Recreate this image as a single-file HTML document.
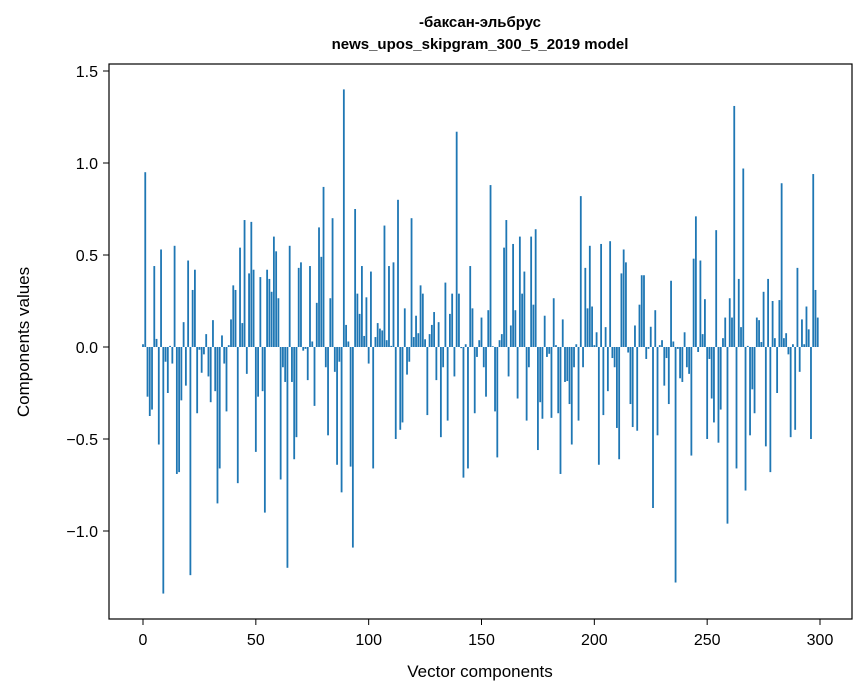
<!DOCTYPE html>
<html><head><meta charset="utf-8">
<style>
body{margin:0;background:#fff;}
svg{display:block;font-family:"Liberation Sans","DejaVu Sans",sans-serif;}
</style></head>
<body>
<svg id="chart" width="867" height="696" viewBox="0 0 867 696" xmlns="http://www.w3.org/2000/svg">
<rect width="867" height="696" fill="#fff"/>
<text x="480" y="27" text-anchor="middle" font-size="15" font-weight="bold">-баксан-эльбрус</text>
<text x="480" y="49" text-anchor="middle" font-size="15" font-weight="bold">news_upos_skipgram_300_5_2019 model</text>
<g id="bars"></g>
<g id="xaxis"></g>
<g id="yaxis"></g>
<rect x="109" y="64" width="743" height="555" fill="none" stroke="#000" stroke-width="1.2"/>
<text x="480" y="677" text-anchor="middle" font-size="17">Vector components</text>
<text transform="translate(29,342) rotate(-90)" text-anchor="middle" font-size="17">Components values</text>
</svg>
<script>
const values = [
0.015,0.95,-0.27,-0.375,-0.34,0.44,0.044,-0.53,0.53,-1.34,
-0.08,-0.25,0.006,-0.09,0.55,-0.69,-0.68,-0.29,0.135,-0.21,
0.47,-1.24,0.31,0.42,-0.36,-0.015,-0.14,-0.04,0.07,-0.16,
-0.30,0.146,-0.24,-0.85,-0.66,0.063,-0.09,-0.35,0.01,0.15,
0.335,0.31,-0.74,0.54,0.13,0.69,-0.146,0.40,0.68,0.42,
-0.57,-0.27,0.38,-0.24,-0.90,0.42,0.37,0.30,0.60,0.52,
0.265,-0.72,-0.11,-0.19,-1.20,0.55,-0.19,-0.61,-0.49,0.43,
0.46,-0.02,-0.01,-0.18,0.44,0.03,-0.32,0.24,0.65,0.49,
0.87,-0.11,-0.48,0.265,0.70,-0.135,-0.64,-0.08,-0.79,1.40,
0.12,0.03,-0.65,-1.09,0.75,0.29,0.18,0.44,0.06,0.27,
-0.09,0.41,-0.66,0.054,0.13,0.10,0.09,0.66,0.037,0.44,
0.006,0.46,-0.50,0.80,-0.45,-0.41,0.21,-0.15,-0.08,0.70,
0.054,0.17,0.075,0.335,0.29,0.042,-0.37,0.07,0.12,0.19,
-0.18,0.135,-0.49,-0.11,0.35,-0.40,0.18,0.29,-0.16,1.17,
0.29,-0.006,-0.71,0.015,-0.66,0.44,0.21,-0.36,-0.054,0.037,
0.16,-0.11,-0.27,0.20,0.88,0.004,-0.35,-0.60,0.037,0.07,
0.54,0.69,-0.16,0.117,0.56,0.20,-0.28,0.60,0.29,0.41,
-0.40,-0.11,0.60,0.23,0.64,-0.56,-0.30,-0.39,0.17,-0.054,
-0.037,-0.385,0.265,0.01,-0.36,-0.69,0.15,-0.19,-0.185,-0.31,
-0.53,-0.11,0.015,-0.40,0.82,-0.11,0.43,0.21,0.55,0.22,
0.01,0.08,-0.64,0.56,-0.37,0.108,-0.24,0.575,-0.06,-0.11,
-0.44,-0.61,0.40,0.53,0.46,-0.03,-0.31,-0.435,0.117,-0.455,
0.23,0.39,0.39,-0.065,-0.01,0.11,-0.875,0.20,-0.48,0.01,
0.037,-0.21,-0.06,-0.31,0.36,0.03,-1.28,-0.01,-0.17,-0.19,
0.08,-0.11,-0.146,-0.59,0.48,0.71,-0.027,0.47,0.07,0.26,
-0.50,-0.065,-0.28,-0.41,0.635,-0.52,-0.34,0.048,0.16,-0.96,
0.265,0.16,1.31,-0.66,0.37,0.108,0.97,-0.78,0.006,-0.48,
-0.23,-0.36,0.16,0.146,0.027,0.30,-0.54,0.37,-0.68,0.25,
0.048,-0.25,0.255,0.89,0.048,0.075,-0.04,-0.49,0.015,-0.45,
0.43,-0.135,0.15,0.015,0.22,0.096,-0.50,0.94,0.31,0.16
];
const xTicks = [0,50,100,150,200,250,300];
const yTicks = [-1.0,-0.5,0.0,0.5,1.0,1.5];
const yTickLabels = ["\u22121.0","\u22120.5","0.0","0.5","1.0","1.5"];

const NS="http://www.w3.org/2000/svg";
const X0=143, XS=(820-143)/300, Y0=347, YS=184;
function xPos(v){return X0+v*XS;}
function yPos(v){return Y0-v*YS;}
const barsG=document.getElementById('bars');
values.forEach((v,i)=>{
  const r=document.createElementNS(NS,'rect');
  const x=xPos(i-0.4), w=0.8*XS;
  const y1=yPos(Math.max(v,0)), y2=yPos(Math.min(v,0));
  r.setAttribute('x',x);r.setAttribute('width',w);
  r.setAttribute('y',y1);r.setAttribute('height',Math.max(y2-y1,0.3));
  r.setAttribute('fill','#1f77b4');
  
  
  barsG.appendChild(r);
});
const xg=document.getElementById('xaxis');
xTicks.forEach(t=>{
  const l=document.createElementNS(NS,'line');
  l.setAttribute('x1',xPos(t));l.setAttribute('x2',xPos(t));
  l.setAttribute('y1',619);l.setAttribute('y2',625);l.setAttribute('stroke','#000');
  
  
  xg.appendChild(l);
  const tx=document.createElementNS(NS,'text');
  tx.setAttribute('x',xPos(t));tx.setAttribute('y',645);
  tx.setAttribute('text-anchor','middle');tx.setAttribute('font-size','16');
  tx.textContent=String(t);
  
  
  xg.appendChild(tx);
});
const yg=document.getElementById('yaxis');
yTicks.forEach((t,k)=>{
  const l=document.createElementNS(NS,'line');
  l.setAttribute('x1',103);l.setAttribute('x2',109);
  l.setAttribute('y1',yPos(t));l.setAttribute('y2',yPos(t));l.setAttribute('stroke','#000');
  
  
  yg.appendChild(l);
  const tx=document.createElementNS(NS,'text');
  tx.setAttribute('x',98);tx.setAttribute('y',yPos(t)+6);
  tx.setAttribute('text-anchor','end');tx.setAttribute('font-size','16');
  tx.textContent=yTickLabels[k];
  
  
  yg.appendChild(tx);
});
</script>
</body></html>
